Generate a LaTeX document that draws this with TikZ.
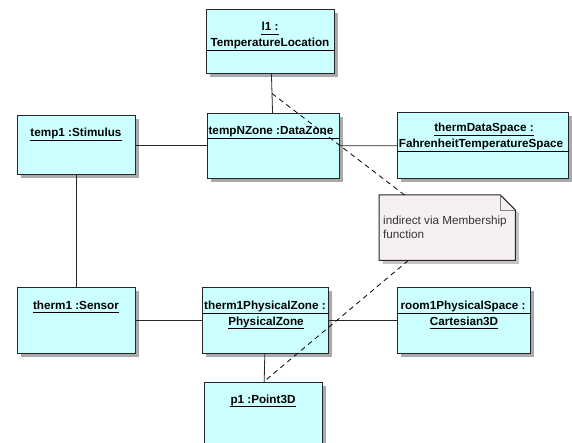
\documentclass[tikz,border=0pt]{standalone}
\usepackage{fontspec}
\setmainfont{Liberation Sans}
\usetikzlibrary{shadows}
\definecolor{objfill}{RGB}{204,255,255}
\definecolor{notefill}{RGB}{246,240,245}
\definecolor{shadowgray}{RGB}{170,170,170}
\tikzset{
  obj/.style={draw=black!85, line width=1pt, fill=objfill, inner sep=0pt, anchor=north west,
    drop shadow={shadow xshift=3.5pt, shadow yshift=-3.5pt, fill=shadowgray, opacity=1}},
  lbl/.style={font=\fontsize{11.7}{14}\selectfont\bfseries, inner sep=0pt, anchor=base},
  notetxt/.style={font=\fontsize{11.7}{14}\selectfont, inner sep=0pt, anchor=base west, text=black!80},
  link/.style={line width=0.8pt, black!85},
  memb/.style={line width=0.8pt, dash pattern=on 5pt off 4pt},
  sepline/.style={line width=0.8pt},
  uline/.style={line width=0.7pt},
}
\newcommand\ulbl[3]{%
  \node[lbl] (#1) at (#2) {#3};
  \draw[uline] ([yshift=-3pt]#1.base west) -- ([yshift=-3pt]#1.base east);}
\begin{document}
\begin{tikzpicture}[x=1pt,y=-1pt]
\useasboundingbox (0,0) rectangle (572,443);

% object boxes
\node[obj, minimum width=128pt, minimum height=64pt] (l1) at (206,9) {};
\node[obj, minimum width=118pt, minimum height=59pt] (temp1) at (17,115) {};
\node[obj, minimum width=132pt, minimum height=65pt] (tempNZone) at (207,113) {};
\node[obj, minimum width=171pt, minimum height=66pt] (thermDS) at (397,112) {};
\node[obj, minimum width=118pt, minimum height=66pt] (therm1) at (17,287) {};
\node[obj, minimum width=126pt, minimum height=66pt] (therm1PZ) at (202,287) {};
\node[obj, minimum width=133pt, minimum height=66pt] (room1) at (397,287) {};
\node[obj, minimum width=118pt, minimum height=64pt] (p1) at (204,382) {};

% compartment separators
\draw[sepline] (l1.west |- 0,50) -- (l1.east |- 0,50);
\draw[sepline] (tempNZone.west |- 0,138) -- (tempNZone.east |- 0,138);
\draw[sepline] (thermDS.west |- 0,151) -- (thermDS.east |- 0,151);
\draw[sepline] (therm1PZ.west |- 0,313) -- (therm1PZ.east |- 0,313);
\draw[sepline] (room1.west |- 0,313) -- (room1.east |- 0,313);

% labels
\ulbl{tl1}{270,31}{l1 :}
\node[lbl] (tl1b) at (270,47) {TemperatureLocation};
\ulbl{ttemp1}{76,137}{temp1 :Stimulus}
\node[lbl] (ttempN) at (271,135) {tempNZone :DataZone};
\ulbl{tthermDS}{484,132}{thermDataSpace :}
\node[lbl] (tthermDSb) at (481,148) {FahrenheitTemperatureSpace};
\ulbl{ttherm1}{76,309}{therm1 :Sensor}
\node[lbl] (tPZa) at (265,309) {therm1PhysicalZone :};
\ulbl{tPZb}{266,325}{PhysicalZone}
\node[lbl] (troom1a) at (463,309) {room1PhysicalSpace :};
\ulbl{troom1b}{464,325}{Cartesian3D}
\ulbl{tp1}{263,403}{p1 :Point3D}

% note
\node[minimum width=136pt, minimum height=65pt, inner sep=0pt, anchor=north west] (note) at (379,195) {};
\fill[shadowgray!70] ([xshift=3.5pt,yshift=-3.5pt]note.north west) -- ([xshift=-11.5pt,yshift=-3.5pt]note.north east)
  -- ([xshift=3.5pt,yshift=-18.5pt]note.north east) -- ([xshift=3.5pt,yshift=-3.5pt]note.south east)
  -- ([xshift=3.5pt,yshift=-3.5pt]note.south west) -- cycle;
\draw[fill=notefill, line width=1pt, draw=black!85] (note.north west) -- ([xshift=-15pt]note.north east)
  -- ([yshift=-15pt]note.north east) -- (note.south east) -- (note.south west) -- cycle;
\draw[line width=0.5pt, black!50] ([xshift=-15pt]note.north east) -- ([xshift=-15pt,yshift=-15pt]note.north east)
  -- ([yshift=-15pt]note.north east);
\node[notetxt] (nt1) at (383,225) {indirect via Membership};
\node[notetxt] (nt2) at (383,238.5) {function};

% links
\draw[link] (l1) -- node[coordinate, pos=0.5] (m1) {} (tempNZone);
\draw[link] (temp1.east) -- (temp1.east -| tempNZone.west);
\draw[link] (tempNZone) -- (thermDS);
\draw[link] (temp1) -- (therm1);
\draw[link] (therm1) -- (therm1PZ);
\draw[link] (therm1PZ) -- (room1);
\draw[link] (therm1PZ) -- (p1);

% membership (dashed) connectors
\draw[memb] (m1) -- (note);
\draw[memb] (note) -- (p1.north);
\end{tikzpicture}
\end{document}
